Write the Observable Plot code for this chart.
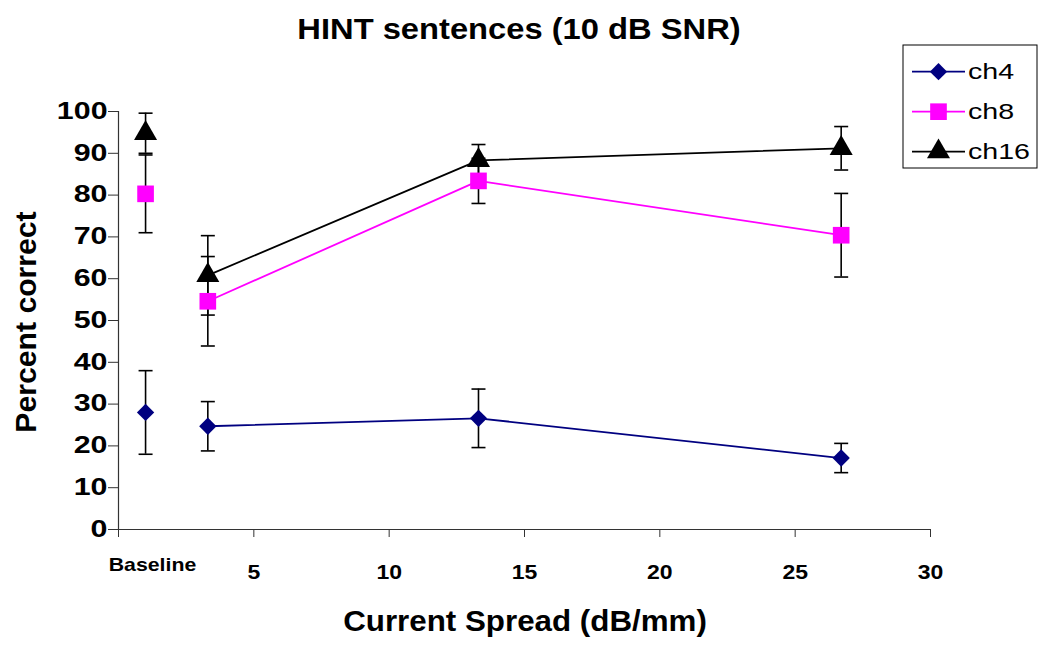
<!DOCTYPE html>
<html><head><meta charset="utf-8">
<script src="https://cdn.jsdelivr.net/npm/d3@7"></script>
<script src="https://cdn.jsdelivr.net/npm/@observablehq/plot@0.6"></script>
<style>body{margin:0;background:#fff;} #chart svg{display:block;}</style>
</head><body><div id="chart"></div>
<script>
// ---- data ----
const conditions = ["Baseline", "3.3", "13.3", "26.7"];
const spread = [1, 3.3, 13.3, 26.7];
const ch4 = [28.0, 24.7, 26.6, 17.1];
const ch4Err = [10.0, 5.9, 7.0, 3.5];
const ch8 = [80.3, 54.6, 83.4, 70.4];
const ch8Err = [9.3, 10.7, 5.4, 10.0];
const ch16 = [94.8, 60.8, 88.3, 91.2];
const ch16Err = [4.8, 9.5, 3.8, 5.2];
const seriesNames = ["ch4", "ch8", "ch16"];
const xTicks = [0, 5, 10, 15, 20, 25, 30];
const yTicks = [0, 10, 20, 30, 40, 50, 60, 70, 80, 90, 100];
const titleText = "HINT sentences (10 dB SNR)";
const xLabel = "Current Spread (dB/mm)";
const yLabel = "Percent correct";

// ---- styles ----
const values = {ch4, ch8, ch16};
const errs = {ch4: ch4Err, ch8: ch8Err, ch16: ch16Err};
const colors = {ch4: "#000080", ch8: "#FF00FF", ch16: "#000000"};
const symbols = {ch4: d3.symbolDiamond2, ch8: d3.symbolSquare2, ch16: d3.symbolTriangle2};
const radii = {ch4: 7.8, ch8: 10.6, ch16: 11};
const FONT = "'Liberation Sans', Arial, sans-serif";

const rows = seriesNames.flatMap(s => spread.map((x, j) => ({
  series: s, condition: conditions[j], x, y: values[s][j], e: errs[s][j]
})));
const lineRows = rows.filter(d => d.condition !== "Baseline");

const cap = {draw(ctx) { ctx.moveTo(-7, 0); ctx.lineTo(7, 0); }};

const plot = Plot.plot({
  width: 1050, height: 649,
  marginLeft: 118, marginRight: 120, marginTop: 111, marginBottom: 120,
  style: {fontFamily: FONT, background: "white", overflow: "visible"},
  x: {domain: [0, 30]},
  y: {domain: [0, 100]},
  color: {domain: seriesNames, range: seriesNames.map(s => colors[s])},
  marks: [
    Plot.axisY({ticks: yTicks, label: null, tickSize: 10, tickPadding: 1, fontSize: 23, fontWeight: "bold", fill: "black", stroke: "#333"}),
    Plot.axisX({ticks: xTicks, label: null, tickSize: 8, tickPadding: 27, tickFormat: d => d === 0 ? "" : d, fontSize: 20, fontWeight: "bold", fill: "black", stroke: "#333"}),
    Plot.axisX({ticks: [0], label: null, tickSize: 0, tickPadding: 28, dx: 34, tickFormat: () => conditions[0], fontSize: 18.5, fontWeight: "bold", fill: "black"}),
    Plot.ruleX([0], {stroke: "#333", strokeWidth: 1.2}),
    Plot.ruleY([0], {stroke: "#333", strokeWidth: 1.2}),
    Plot.line(lineRows, {x: "x", y: "y", z: "series", stroke: "series", strokeWidth: 1.8}),
    Plot.ruleX(rows, {x: "x", y1: d => d.y - d.e, y2: d => d.y + d.e, stroke: "black", strokeWidth: 1.6}),
    Plot.dot(rows, {x: "x", y: d => d.y - d.e, symbol: cap, fill: "none", stroke: "black", strokeWidth: 1.6}),
    Plot.dot(rows, {x: "x", y: d => d.y + d.e, symbol: cap, fill: "none", stroke: "black", strokeWidth: 1.6}),
    ...seriesNames.map(s => Plot.dot(rows.filter(d => d.series === s), {
      x: "x", y: "y", symbol: symbols[s], r: radii[s], fill: colors[s], stroke: "none"
    }))
  ]
});
document.getElementById("chart").appendChild(plot);

const svg = d3.select(plot);
function stretch(sel, k) {
  sel.each(function() {
    const len = this.getComputedTextLength();
    if (len > 0) {
      this.setAttribute("textLength", len * k);
      this.setAttribute("lengthAdjust", "spacingAndGlyphs");
    }
  });
}
stretch(svg.selectAll('g[aria-label="y-axis tick label"] text'), 1.32);
stretch(svg.selectAll('g[aria-label="x-axis tick label"] text'), 1.15);

// title
const title = svg.append("text").attr("x", 519).attr("y", 39).attr("text-anchor", "middle")
  .attr("font-family", FONT).attr("font-size", 30).attr("font-weight", "bold").text(titleText);
stretch(title, 1.09);
// x label
const xl = svg.append("text").attr("x", 525).attr("y", 631).attr("text-anchor", "middle")
  .attr("font-family", FONT).attr("font-size", 29).attr("font-weight", "bold").text(xLabel);
stretch(xl, 1.08);
// y label
const yl = svg.append("text").attr("transform", "translate(36,322) rotate(-90)").attr("text-anchor", "middle")
  .attr("font-family", FONT).attr("font-size", 29).attr("font-weight", "bold").text(yLabel);
stretch(yl, 1.04);

// legend
const lg = svg.append("g");
lg.append("rect").attr("x", 903).attr("y", 45).attr("width", 134).attr("height", 123)
  .attr("fill", "white").attr("stroke", "black").attr("stroke-width", 1);
seriesNames.forEach((s, i) => {
  const cy = 71.7 + 40 * i;
  lg.append("line").attr("x1", 912).attr("x2", 965).attr("y1", cy).attr("y2", cy)
    .attr("stroke", colors[s]).attr("stroke-width", 1.8);
  lg.append("path").attr("transform", `translate(938.5,${cy})`)
    .attr("d", d3.symbol(symbols[s], radii[s] * radii[s] * Math.PI)()).attr("fill", colors[s]);
  const t = lg.append("text").attr("x", 968).attr("y", cy + 7).attr("text-anchor", "start")
    .attr("font-family", FONT).attr("font-size", 22).text(s);
  stretch(t, 1.3);
});
</script>
</body></html>
